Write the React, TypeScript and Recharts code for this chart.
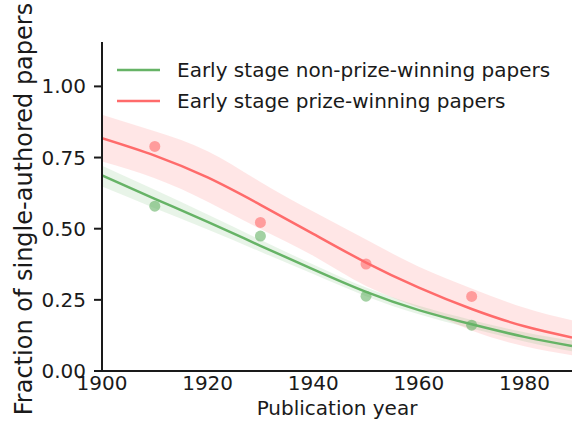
import React from "react";
import {
  ComposedChart,
  Line,
  Area,
  Scatter,
  XAxis,
  YAxis,
  Legend,
} from "recharts";

const years = [1900, 1910, 1920, 1930, 1940, 1950, 1960, 1970, 1980, 1989];
const nonPrizeFit = [0.687, 0.605, 0.524, 0.44, 0.357, 0.278, 0.214, 0.164, 0.12, 0.088];
const nonPrizeLow = [0.648, 0.572, 0.497, 0.419, 0.341, 0.263, 0.199, 0.149, 0.104, 0.069];
const nonPrizeHigh = [0.721, 0.637, 0.55, 0.461, 0.374, 0.293, 0.229, 0.179, 0.136, 0.107];
const prizeFit = [0.818, 0.757, 0.68, 0.584, 0.482, 0.381, 0.293, 0.218, 0.157, 0.118];
const prizeLow = [0.736, 0.677, 0.595, 0.499, 0.405, 0.299, 0.222, 0.142, 0.087, 0.055];
const prizeHigh = [0.9, 0.842, 0.772, 0.664, 0.56, 0.462, 0.366, 0.29, 0.222, 0.178];

// binned observations
const pointYears = [1910, 1930, 1950, 1970];
const nonPrizePoints = [0.579, 0.474, 0.263, 0.161];
const prizePoints = [0.789, 0.522, 0.376, 0.262];

const xTicks = [1900, 1920, 1940, 1960, 1980];
const yTicks = [0, 0.25, 0.5, 0.75, 1.0];

const GREEN = "#66b366";
const RED = "#ff6b6b";
const FONT = "DejaVu Sans";
const INK = "#1a1a1a";

const curveData = years.map((year, i) => ({
  year,
  nonPrize: nonPrizeFit[i],
  nonPrizeBand: [nonPrizeLow[i], nonPrizeHigh[i]],
  prize: prizeFit[i],
  prizeBand: [prizeLow[i], prizeHigh[i]],
}));
const nonPrizeScatter = pointYears.map((year, i) => ({ year, value: nonPrizePoints[i] }));
const prizeScatter = pointYears.map((year, i) => ({ year, value: prizePoints[i] }));

const legendItems = [
  { label: "Early stage non-prize-winning papers", color: GREEN },
  { label: "Early stage prize-winning papers", color: RED },
];

const ChartLegend = () => (
  <div style={{ fontFamily: FONT, fontSize: 20, color: INK }}>
    {legendItems.map((item) => (
      <div key={item.label} style={{ display: "flex", alignItems: "center", height: 30.7 }}>
        <svg width={44} height={6} style={{ marginRight: 16 }}>
          <line x1={0} y1={3} x2={43} y2={3} stroke={item.color} strokeWidth={2.5} />
        </svg>
        <span>{item.label}</span>
      </div>
    ))}
  </div>
);

const dot = (color: string) => (props: any) => (
  <circle cx={props.cx} cy={props.cy} r={5.5} fill={color} fillOpacity={0.6} />
);

export default function App() {
  return (
    <div style={{ position: "absolute", left: 0, top: 0, background: "#fff" }}>
      <ComposedChart
        width={572}
        height={423}
        data={curveData}
        margin={{ top: 42, right: 0, bottom: 0, left: 0 }}
      >
        <XAxis
          dataKey="year"
          type="number"
          domain={[1900, 1989]}
          ticks={xTicks}
          allowDataOverflow
          height={52}
          stroke={INK}
          strokeWidth={2}
          tickLine={false}
          tickSize={0}
          tickMargin={5}
          tick={{ fill: INK, fontFamily: FONT, fontSize: 20 }}
          label={{
            value: "Publication year",
            position: "insideBottom",
            offset: 8,
            style: { fill: INK, fontFamily: FONT, fontSize: 20 },
          }}
        />
        <YAxis
          type="number"
          domain={[0, 1.156]}
          ticks={yTicks}
          allowDataOverflow
          width={102}
          stroke={INK}
          strokeWidth={2}
          tickSize={8}
          tickMargin={8}
          tickFormatter={(v: number) => v.toFixed(2)}
          tick={{ fill: INK, fontFamily: FONT, fontSize: 20 }}
          label={{
            content: () => (
              <text
                x={32}
                y={209}
                transform="rotate(-90, 32, 209)"
                textAnchor="middle"
                fill={INK}
                fontFamily={FONT}
                fontSize={24}
              >
                Fraction of single-authored papers
              </text>
            ),
          }}
        />
        <Legend
          layout="vertical"
          align="center"
          verticalAlign="middle"
          content={<ChartLegend />}
          wrapperStyle={{ left: 117, top: 55, width: 450 }}
        />
        <Area
          type="natural"
          dataKey="prizeBand"
          stroke="none"
          fill={RED}
          fillOpacity={0.17}
          isAnimationActive={false}
          legendType="none"
        />
        <Area
          type="natural"
          dataKey="nonPrizeBand"
          stroke="none"
          fill={GREEN}
          fillOpacity={0.15}
          isAnimationActive={false}
          legendType="none"
        />
        <Line
          type="natural"
          dataKey="nonPrize"
          stroke={GREEN}
          strokeWidth={2.5}
          dot={false}
          isAnimationActive={false}
        />
        <Line
          type="natural"
          dataKey="prize"
          stroke={RED}
          strokeWidth={2.5}
          dot={false}
          isAnimationActive={false}
        />
        <Scatter
          data={nonPrizeScatter}
          dataKey="value"
          shape={dot(GREEN)}
          isAnimationActive={false}
        />
        <Scatter
          data={prizeScatter}
          dataKey="value"
          shape={dot(RED)}
          isAnimationActive={false}
        />
      </ComposedChart>
    </div>
  );
}
